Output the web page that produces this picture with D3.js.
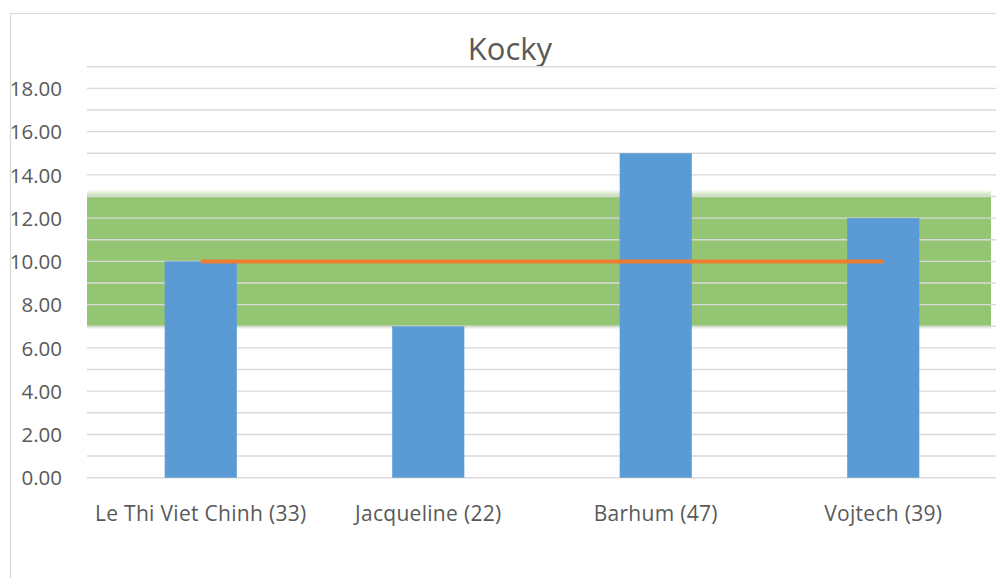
<!DOCTYPE html>
<html>
<head>
<meta charset="utf-8">
<script src="https://cdn.jsdelivr.net/npm/d3@7"></script>
<style>
  html, body { margin: 0; padding: 0; background: #fff; }
  svg { display: block; }
</style>
</head>
<body>
<svg id="chart" width="996" height="578"></svg>
<script>
const title = "Kocky";
const categories = ["Le Thi Viet Chinh (33)", "Jacqueline (22)", "Barhum (47)", "Vojtech (39)"];
const barValues = [10, 7, 15, 12];
const lineValues = [10, 10, 10, 10];
const bandRange = [7, 13];
const yTickLabels = [0, 2, 4, 6, 8, 10, 12, 14, 16, 18];
const gridValues = d3.range(0, 20, 1);

const svg = d3.select("#chart");
const W = 996, H = 578;
const plot = { left: 87, right: 997, top: 66.7, bottom: 477.7 };

const x = d3.scaleBand().domain(categories).range([plot.left, plot.right]).padding(0);
const y = d3.scaleLinear().domain([0, 19]).range([plot.bottom, plot.top]);
const barW = x.bandwidth() * 0.317;

// chart border
svg.append("rect").attr("x", 10.5).attr("y", 13.5).attr("width", 995).attr("height", 575)
  .attr("fill", "#fff").attr("stroke", "#d9d9d9").attr("stroke-width", 1.2);

// title
svg.append("text").attr("x", 510).attr("y", 60).attr("text-anchor", "middle")
  .attr("font-family", "'Open Sans', sans-serif").attr("font-size", 31).attr("fill", "#595959")
  .text(title);

const defs = svg.append("defs");
const grad = defs.append("linearGradient").attr("id", "glow").attr("x1", 0).attr("y1", 0).attr("x2", 0).attr("y2", 1);
grad.append("stop").attr("offset", "0%").attr("stop-color", "#93c572").attr("stop-opacity", 0);
grad.append("stop").attr("offset", "100%").attr("stop-color", "#93c572").attr("stop-opacity", 0.6);
const grad2 = defs.append("linearGradient").attr("id", "glow2").attr("x1", 0).attr("y1", 0).attr("x2", 0).attr("y2", 1);
grad2.append("stop").attr("offset", "0%").attr("stop-color", "#93c572").attr("stop-opacity", 0.5);
grad2.append("stop").attr("offset", "100%").attr("stop-color", "#93c572").attr("stop-opacity", 0);

// green band
const bandRight = 991;
svg.append("rect").attr("x", plot.left).attr("y", y(bandRange[1]) - 7)
  .attr("width", bandRight - plot.left).attr("height", 7).attr("fill", "url(#glow)");
svg.append("rect").attr("x", plot.left).attr("y", y(bandRange[0]))
  .attr("width", bandRight - plot.left).attr("height", 3).attr("fill", "url(#glow2)");
svg.append("rect").attr("x", plot.left).attr("y", y(bandRange[1]))
  .attr("width", bandRight - plot.left).attr("height", y(bandRange[0]) - y(bandRange[1]))
  .attr("fill", "#93c572");

// gridlines
svg.append("g").selectAll("line").data(gridValues).join("line")
  .attr("x1", plot.left).attr("x2", W)
  .attr("y1", d => y(d)).attr("y2", d => y(d))
  .attr("stroke", "#d9d9d9").attr("stroke-width", 1.4);

// y axis labels
const yAxis = d3.axisLeft(y).tickValues(yTickLabels).tickFormat(d3.format(".2f")).tickSize(0).tickPadding(0);
const gy = svg.append("g").attr("transform", "translate(62,0)").call(yAxis);
gy.select(".domain").remove();
gy.selectAll("text").attr("font-family", "'Open Sans', sans-serif").attr("font-size", 20.5)
  .attr("fill", "#595959").attr("dy", "0.35em");

// bars
svg.append("g").selectAll("rect").data(barValues).join("rect")
  .attr("x", (d, i) => x(categories[i]) + x.bandwidth() / 2 - barW / 2)
  .attr("y", d => y(d))
  .attr("width", barW)
  .attr("height", d => y(0) - y(d))
  .attr("fill", "#5b9bd5");

// line
const line = d3.line().x((d, i) => x(categories[i]) + x.bandwidth() / 2).y(d => y(d));
svg.append("path").datum(lineValues).attr("d", line)
  .attr("fill", "none").attr("stroke", "#ed7d31").attr("stroke-width", 4);

// x axis labels
const xAxis = d3.axisBottom(x).tickSize(0).tickPadding(0);
const gx = svg.append("g").attr("transform", "translate(0,521)").call(xAxis);
gx.select(".domain").remove();
gx.selectAll("text").attr("font-family", "'Open Sans', sans-serif").attr("font-size", 21)
  .attr("letter-spacing", 0.3)
  .attr("fill", "#595959").attr("dy", 0).attr("y", 0);
</script>
</body>
</html>
